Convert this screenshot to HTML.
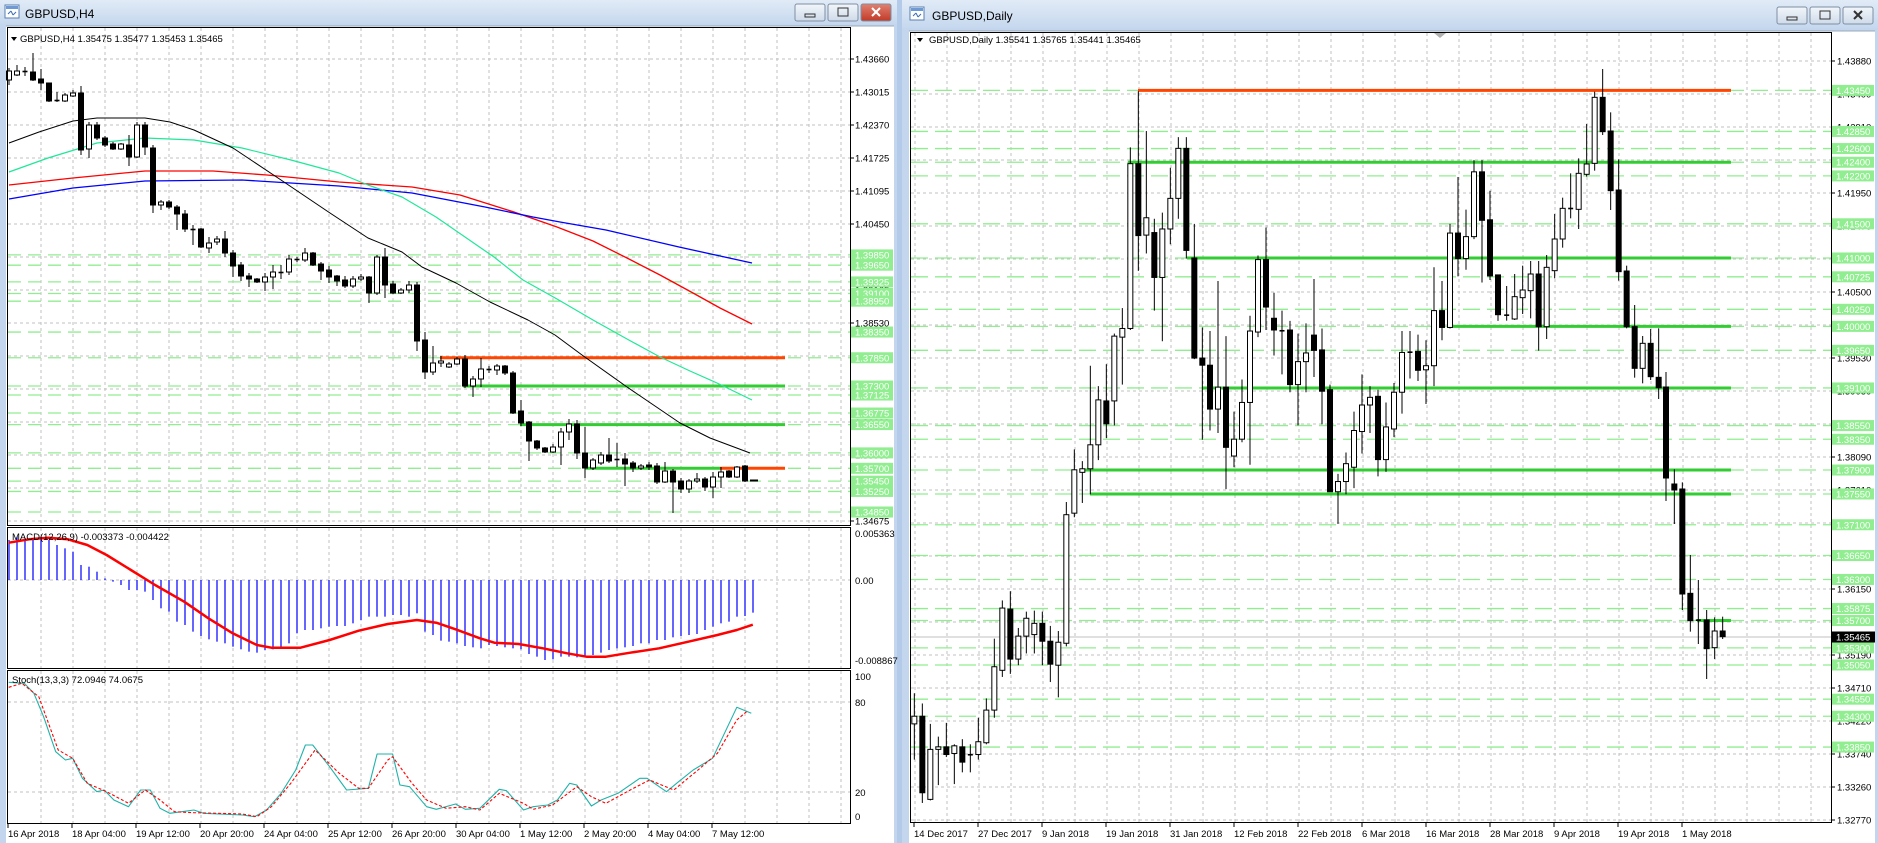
<!DOCTYPE html>
<html><head><meta charset="utf-8"><style>
html,body{margin:0;padding:0;width:1878px;height:843px;overflow:hidden;background:#c3d6ee;}
svg{display:block;font-family:"Liberation Sans",sans-serif;}
</style></head><body>
<svg id="s" width="1878" height="843" xmlns="http://www.w3.org/2000/svg"></svg>
<script>
const S=document.getElementById('s');
let o='';
function R(x,y,w,h,f,e=''){o+=`<rect x="${x}" y="${y}" width="${w}" height="${h}" fill="${f}" ${e}/>`;}
function L(x1,y1,x2,y2,c,w=1,e=''){o+=`<line x1="${x1}" y1="${y1}" x2="${x2}" y2="${y2}" stroke="${c}" stroke-width="${w}" ${e}/>`;}
function T(x,y,t,c='#000',sz=9.5,e=''){o+=`<text x="${x}" y="${y}" fill="${c}" font-size="${sz}" ${e}>${t}</text>`;}
function P(pts,c,w=1,e=''){o+=`<polyline points="${pts.map(p=>p[0].toFixed(1)+','+p[1].toFixed(1)).join(' ')}" fill="none" stroke="${c}" stroke-width="${w}" stroke-linejoin="round" ${e}/>`;}
o+=`<defs><linearGradient id="tb" x1="0" y1="0" x2="0" y2="1"><stop offset="0" stop-color="#e1ebf7"/><stop offset="1" stop-color="#c6d8ee"/></linearGradient>
<linearGradient id="bt" x1="0" y1="0" x2="0" y2="1"><stop offset="0" stop-color="#f2f6fb"/><stop offset="1" stop-color="#cfdbea"/></linearGradient>
<linearGradient id="rb" x1="0" y1="0" x2="0" y2="1"><stop offset="0" stop-color="#e08070"/><stop offset="1" stop-color="#c23a28"/></linearGradient></defs>`;
R(0,0,897,24,'url(#tb)');R(902,0,976,28,'url(#tb)');
R(897,0,5,843,'#b3cbe8');
R(6,26,888,817,'#fff');R(909,31,966,812,'#fff');
L(6,26,894,26,'#9aa8b8');L(909,31,1875,31,'#9aa8b8');
function icon(x,y){R(x,y,14,13,'#fff','stroke="#5a7fb0"');R(x+1,y+1,12,3,'#6d9ad6');L(x+3,y+9,x+6,y+6,'#3b6cb5');L(x+6,y+6,x+8,y+10,'#3b6cb5');L(x+8,y+10,x+11,y+7,'#3b6cb5');}
icon(5,5);icon(910,7);
T(25,18,'GBPUSD,H4','#000',12);T(932,20,'GBPUSD,Daily','#000',12);
function btns(x,y,red){
 [0,1,2].forEach(i=>{const bx=x+i*33;R(bx,y,30,17,(i==2&&red)?'url(#rb)':'url(#bt)','rx="2" stroke="#7f8ea3"');
  const c=(i==2&&red)?'#fff':'#333';
  if(i==0)R(bx+10,y+10,10,3,'none','stroke="'+c+'"');
  if(i==1)R(bx+10,y+4,10,8,'none','stroke="'+c+'"');
  if(i==2){L(bx+11,y+4,bx+19,y+12,c,2);L(bx+19,y+4,bx+11,y+12,c,2);}
 });}
btns(795,4,true);btns(1777,7,false);

const GR='#c0c0c0',LG='#90ee90',GS='#32cd32',OR='#ff4500';
const yL=p=>59+(1.4366-p)*5142;
for(let x=41;x<=841;x+=32){L(x,28,x,525,GR,1,'stroke-dasharray="3 3"');L(x,528,x,668,GR,1,'stroke-dasharray="3 3"');L(x,671,x,823,GR,1,'stroke-dasharray="3 3"');}
const lLab=['1.43660','1.43015','1.42370','1.41725','1.41095','1.40450','1.39805','1.39165','1.38530','1.37885','1.37240','1.36600','1.35960','1.35320','1.34675'];
lLab.forEach((t,k)=>{const y=59+33*k;L(8,y,850,y,GR,1,'stroke-dasharray="3 3"');L(850,y,854,y,'#000');T(855,y+3.5,t);});
L(8,580,850,580,GR,1,'stroke-dasharray="3 3"');L(8,702,850,702,GR,1,'stroke-dasharray="3 3"');L(8,792,850,792,GR,1,'stroke-dasharray="3 3"');
const lLev=[1.3985,1.3965,1.39325,1.391,1.3895,1.3835,1.3785,1.373,1.37125,1.36775,1.3655,1.36,1.357,1.3545,1.3525,1.3485];
lLev.forEach(p=>{const y=yL(p);L(8,y,850,y,LG,1.3,'stroke-dasharray="13 7"');});
L(440,yL(1.3785),785,yL(1.3785),OR,3);
L(463,yL(1.373),785,yL(1.373),GS,3);
L(520,yL(1.3655),785,yL(1.3655),GS,3);
L(585,yL(1.357),720,yL(1.357),GS,3);L(720,yL(1.357),785,yL(1.357),OR,3);
P([[9,185],[73,178],[145,171],[213,171],[267,175],[339,182],[412,187],[460,195],[514,212],[557,227],[593,241],[627,258],[660,275],[693,293],[720,308],[752,324]],'#ff0000',1.3);
P([[9,199],[73,188],[145,181],[242,180],[339,186],[412,193],[485,207],[533,217],[560,222],[606,230],[679,247],[752,263]],'#0000ff',1.3);
P([[9,172],[48,158],[97,143],[145,138],[194,140],[242,148],[291,160],[339,173],[368,185],[402,197],[436,217],[465,237],[494,257],[523,280],[557,299],[593,320],[627,339],[660,357],[690,371],[717,383],[752,400]],'#1fe898',1.2);
P([[9,143],[39,132],[73,121],[97,118],[145,118],[170,122],[194,130],[233,148],[281,180],[330,213],[368,238],[402,252],[422,267],[456,283],[490,302],[528,320],[555,335],[582,355],[627,387],[680,423],[710,438],[750,453]],'#000',1);
const hc=[[9,71,80,68,85,0],[17,71,75,65,76,0],[25,71,72,67,76,1],[33,72,80,53,81,1],[41,79,83,69,90,1],[49,83,101,83,102,1],[57,100,101,92,102,2],[65,95,101,93,102,0],[73,93,96,90,97,0],[81,93,150,86,155,1],[89,125,149,122,158,0],[97,125,138,122,140,1],[105,138,145,136,147,1],[113,144,149,142,150,1],[121,144,149,143,150,0],[129,145,157,135,166,1],[137,125,157,122,158,0],[145,125,147,122,155,1],[153,148,205,145,213,1],[161,202,205,200,210,0],[169,202,207,200,209,1],[177,207,214,205,230,1],[185,214,229,210,232,1],[193,229,230,225,245,2],[201,229,247,228,248,1],[209,243,248,237,253,0],[217,239,242,236,245,0],[225,239,253,231,257,1],[233,253,266,250,277,1],[241,265,276,262,281,1],[249,276,279,273,287,1],[257,279,282,278,283,1],[265,277,282,273,291,0],[273,272,277,265,289,0],[281,272,273,265,279,2],[289,259,272,255,275,0],[297,259,260,257,262,2],[305,253,260,248,262,0],[313,253,265,252,266,1],[321,264,271,262,280,1],[329,270,277,266,283,1],[337,276,281,275,286,1],[345,280,286,276,288,1],[353,279,286,276,288,0],[361,277,279,274,281,0],[369,277,293,276,303,1],[377,257,293,255,295,0],[385,257,285,248,298,1],[393,284,293,281,294,1],[401,290,293,288,294,0],[409,285,290,281,293,0],[417,285,341,282,351,1],[425,340,372,332,379,1],[433,363,372,346,375,0],[441,361,363,356,367,0],[449,364,367,362,368,0],[457,359,364,357,365,0],[465,359,386,355,388,1],[473,379,386,376,397,0],[481,369,379,358,387,0],[489,369,370,366,373,2],[497,366,370,364,375,0],[505,366,373,365,375,1],[513,373,413,371,414,1],[521,411,423,400,426,1],[529,422,441,421,461,1],[537,441,448,440,450,1],[545,448,452,447,453,1],[553,447,452,444,453,0],[561,432,447,428,465,0],[569,424,432,419,440,0],[577,424,453,420,459,1],[585,453,468,427,478,1],[593,460,468,458,470,0],[601,455,463,452,465,0],[609,455,461,438,463,1],[617,459,460,443,467,2],[625,459,464,453,486,1],[633,463,468,461,472,1],[641,466,468,464,470,0],[649,465,467,462,470,1],[657,466,482,463,484,1],[665,471,482,462,483,0],[673,471,482,469,513,1],[681,481,489,478,493,1],[689,481,489,479,493,0],[697,479,481,473,483,0],[705,479,487,477,491,1],[713,477,487,472,498,0],[721,472,477,467,488,0],[729,471,477,470,478,1],[737,467,477,466,478,0],[745,466,481,465,482,1]];
function candle(x,bt,bb,wt,wb,b,hw){
 L(x,wt,x,wb,'#000',1);
 if(b==2||bb-bt<1.5){L(x-hw,(bt+bb)/2,x+hw,(bt+bb)/2,'#000',1.6);return;}
 R(x-hw,bt,hw*2,bb-bt,b?'#000':'#fff','stroke="#000" stroke-width="1"');
}
hc.forEach(c=>candle(c[0],c[1],c[2],c[3],c[4],c[5],2.5));
L(750,480.5,758,480.5,'#000',2);
function gbox(x,y,t){R(x,y-5.5,42,11,LG);T(x+4,y+3.5,t,'#fff');}
lLev.forEach(p=>gbox(851,yL(p),p.toFixed(5)));
const hz=[330,320,325,325,320,330,345,355,365,405,410,425,445,455,465,480,480,485,510,535,545,575,585,605,618,628,635,640,650,658,665,668,660,658,650,640,610,600,600,595,590,588,588,580,570,560,560,560,555,555,560,550,605,615,632,635,640,648,652,655,645,648,652,655,658,672,680,690,688,680,680,682,680,675,668,660,655,652,648,640,640,630,630,622,618,615,612,600,590,580,575,560,558,548];
hz.forEach((z,i)=>{const x=9+8*i;L(x,580,x,430+z/3,'#0000ff',1.2);});
const z5=a=>a.map(p=>[p[0]/2.063,430+p[1]/3]);
P(z5([[18,338],[60,328],[100,323],[140,328],[180,345],[220,375],[270,420],[320,465],[380,515],[430,565],[480,610],[530,645],[560,653],[620,653],[680,630],[740,602],[800,582],[860,570],[900,578],[940,598],[990,625],[1020,638],[1070,642],[1120,655],[1170,670],[1210,680],[1250,680],[1300,668],[1360,655],[1420,635],[1480,615],[1520,600],[1553,584]]),'#ff0000',2.5);
T(12,540,'MACD(12,26,9) -0.003373 -0.004422');
T(855,537,'0.005363');T(855,584,'0.00');T(855,664,'-0.008867');
P(z5([[18,757],[50,760],[70,790],[90,860],[115,965],[135,990],[150,985],[170,1045],[200,1085],[215,1080],[235,1110],[265,1130],[290,1080],[310,1080],[330,1135],[350,1150],[375,1145],[400,1140],[420,1150],[450,1152],[500,1155],[525,1160],[550,1140],[580,1090],[610,1020],[630,945],[645,945],[680,1010],[715,1080],[760,1075],[778,972],[810,972],[825,1065],[845,1070],[880,1130],[900,1138],[940,1122],[960,1138],[990,1135],[1030,1078],[1045,1082],[1080,1140],[1100,1130],[1130,1125],[1150,1110],[1175,1060],[1190,1065],[1220,1128],[1240,1110],[1275,1090],[1320,1045],[1335,1045],[1375,1085],[1400,1055],[1430,1020],[1470,985],[1520,832],[1550,850]]),'#20b2aa',1.1);
P(z5([[18,772],[45,760],[80,800],[100,880],[120,960],[150,985],[180,1060],[220,1085],[265,1120],[300,1080],[330,1110],[360,1145],[400,1148],[450,1150],[500,1152],[530,1160],[560,1130],[600,1060],[650,960],[700,1030],[740,1075],[760,1075],[800,990],[810,980],[850,1060],[880,1110],[920,1135],[960,1130],[990,1140],[1030,1090],[1080,1120],[1100,1138],[1140,1125],[1190,1070],[1220,1100],[1250,1120],[1300,1080],[1340,1050],[1390,1080],[1440,1020],[1480,970],[1520,870],[1540,845]]),'#ff0000',1.1,'stroke-dasharray="3 2"');
T(12,683,'Stoch(13,3,3) 72.0946 74.0675');
T(855,680,'100');T(855,706,'80');T(855,796,'20');T(855,820,'0');
R(7.5,27.5,843,498,'none','stroke="#000"');R(7.5,527.5,843,141,'none','stroke="#000"');R(7.5,670.5,843,153,'none','stroke="#000"');
const ld=['16 Apr 2018','18 Apr 04:00','19 Apr 12:00','20 Apr 20:00','24 Apr 04:00','25 Apr 12:00','26 Apr 20:00','30 Apr 04:00','1 May 12:00','2 May 20:00','4 May 04:00','7 May 12:00'];
ld.forEach((t,i)=>{const x=8+64*i;L(x,824,x,828,'#000');T(x,837,t);});
T(20,42,'GBPUSD,H4  1.35475 1.35477 1.35453 1.35465');o+=`<polygon points="11,37 17,37 14,41" fill="#000"/>`;

const yD=p=>61+(1.4388-p)*6840;
for(let x=915;x<=1811;x+=32)L(x,33,x,822,GR,1,'stroke-dasharray="3 3"');
const dLab=['1.43880','1.43400','1.42910','1.42430','1.41950','1.41470','1.40980','1.40500','1.40020','1.39530','1.39050','1.38570','1.38090','1.37610','1.37130','1.36640','1.36150','1.35670','1.35190','1.34710','1.34220','1.33740','1.33260','1.32770'];
dLab.forEach((t,k)=>{const y=61+33*k;L(911,y,1831,y,GR,1,'stroke-dasharray="3 3"');L(1831,y,1835,y,'#000');T(1837,y+3.5,t);});
const dLev=[1.4345,1.4285,1.426,1.424,1.422,1.415,1.41,1.40725,1.4025,1.40,1.3965,1.391,1.3855,1.3835,1.379,1.3755,1.371,1.3665,1.363,1.35875,1.357,1.353,1.3505,1.3455,1.343,1.3385];
dLev.forEach(p=>{const y=yD(p);L(911,y,1831,y,LG,1.3,'stroke-dasharray="17 7"');});
L(911,637,1831,637,'#c0c0c0',1);
L(1138,yD(1.4345),1731,yD(1.4345),OR,3);
L(1128,yD(1.424),1731,yD(1.424),GS,3);
L(1187,yD(1.41),1731,yD(1.41),GS,3);
L(1447,yD(1.40),1731,yD(1.40),GS,3);
L(1202,yD(1.391),1731,yD(1.391),GS,3);
L(1082,yD(1.379),1731,yD(1.379),GS,3);
L(1090,yD(1.3755),1731,yD(1.3755),GS,3);
L(1697,yD(1.357),1731,yD(1.357),GS,3);
const T9=c=>[905+c[0]/3,30+c[2]/1.96,30+c[3]/1.96,30+c[4]/1.96,30+c[5]/1.96,c[1]];
const T10=c=>[1200+c[0]/3,30+c[2]/1.96,30+c[3]/1.96,30+c[4]/1.96,30+c[5]/1.96,c[1]];
const T2=c=>[1480+c[0]/3,c[2]/3,c[3]/3,c[4]/3,c[5]/3,c[1]];
const T3=c=>[1480+c[0]/3,420+c[2]/3,420+c[3]/3,420+c[4]/3,420+c[5]/3,c[1]];
const d9=[[28,0,1345,1360,1300,1430],[52,1,1345,1495,1320,1515],[76,0,1410,1508,1360,1510],[100,0,1405,1410,1385,1480],[124,1,1405,1420,1358,1425],[148,0,1403,1418,1400,1478],[172,1,1405,1435,1390,1455],[196,2,1420,1421,1400,1455],[220,0,1395,1420,1348,1430],[244,0,1333,1397,1310,1400],[268,0,1248,1333,1193,1348],[292,0,1133,1255,1118,1268],[316,1,1135,1233,1100,1262],[340,0,1188,1233,1172,1245],[364,0,1153,1188,1140,1222],[388,0,1163,1185,1138,1222],[412,1,1163,1198,1140,1245],[436,1,1198,1243,1168,1278],[460,0,1200,1245,1178,1308],[484,0,950,1202,925,1208],[508,0,862,947,822,955],[532,0,860,867,845,927],[556,0,813,860,658,910],[580,0,725,813,698,843],[604,1,727,772,655,800],[628,0,600,727,595,775],[652,0,585,602,545,695],[676,0,262,585,230,588],[700,1,262,403,120,472],[724,0,368,402,198,438],[748,1,397,485,370,550],[772,0,390,485,358,610],[796,0,330,390,270,420],[820,0,232,330,210,370],[844,1,232,432,210,448],[868,1,447,643,380,645],[892,1,643,657,583,803]];
const d10=[[30,1,657,743,590,785],[54,0,700,743,492,790],[78,1,700,818,600,900],[102,0,802,835,748,857],[126,0,730,802,685,808],[150,0,590,730,560,852],[174,0,450,592,442,602],[198,1,450,543,387,588],[222,1,565,588,515,638],[246,2,588,591,550,675],[270,1,588,695,570,710],[294,0,650,695,595,775],[318,0,633,650,575,710],[342,1,598,628,488,680],[366,1,627,708,585,773],[390,1,705,905,695,905],[414,0,885,905,870,968],[438,0,850,885,828,910],[462,0,785,857,748,898],[486,0,735,787,675,830],[510,0,720,735,698,790],[534,1,718,842,705,875],[558,0,778,842,730,866],[582,0,710,782,692,798],[606,0,632,710,590,752],[630,2,630,633,590,683],[654,1,630,667,597,688],[678,0,658,666,608,733],[702,0,550,658,465,698],[726,1,550,583,492,608],[750,0,398,583,380,585],[774,1,398,448,288,483],[798,0,405,448,352,470],[822,0,278,405,255,410],[846,1,278,373,255,495],[870,1,372,482,315,490],[894,1,480,558,480,570]];
const d2=[[80,2,945,946,858,962],[104,0,890,957,822,960],[128,0,870,893,797,942],[152,0,822,872,783,955],[176,1,822,980,783,1052],[200,0,802,980,765,1017],[224,0,717,812,642,835],[248,0,625,717,593,743],[272,2,625,626,520,655],[296,0,520,628,475,687],[320,0,492,523,372,530],[344,0,292,490,275,512],[368,1,292,395,207,405],[392,1,393,572,337,630],[416,1,570,815,478,842],[440,1,813,980,797,985],[464,1,980,1105,915,1133],[488,0,1030,1105,1008,1150],[512,1,1030,1130,987,1140],[536,1,1132,1163,985,1197]];
const d3=[[583,1,192,210,148,312],[607,1,207,522,187,570],[631,1,520,602,405,635],[655,2,600,601,480,672],[680,1,600,686,570,777],[704,0,633,683,592,717],[728,1,633,650,590,657]];
const dc=[...d9.map(T9),...d10.map(T10),...d2.map(T2),[1666,387,478,372,501,1],...d3.map(T3)];
dc.forEach(c=>candle(c[0],c[1],c[2],c[3],c[4],c[5],2.5));
dLev.forEach(p=>{const y=yD(p);R(1832,y-5.5,42,11,LG);T(1836,y+3.5,p.toFixed(5),'#fff');});
R(1832,631.5,43,11,'#000');T(1836,640.5,'1.35465','#fff');
R(910.5,32.5,921,790,'none','stroke="#000"');
const dd=['14 Dec 2017','27 Dec 2017','9 Jan 2018','19 Jan 2018','31 Jan 2018','12 Feb 2018','22 Feb 2018','6 Mar 2018','16 Mar 2018','28 Mar 2018','9 Apr 2018','19 Apr 2018','1 May 2018'];
dd.forEach((t,i)=>{const x=914+64*i;L(x,823,x,827,'#000');T(x,837,t);});
T(929,43,'GBPUSD,Daily  1.35541 1.35765 1.35441 1.35465');o+=`<polygon points="917,38 923,38 920,42" fill="#000"/>`;
o+=`<polygon points="1434,33 1446,33 1440,38" fill="#b0b0b0"/>`;
S.innerHTML=o;
</script>
</body></html>
